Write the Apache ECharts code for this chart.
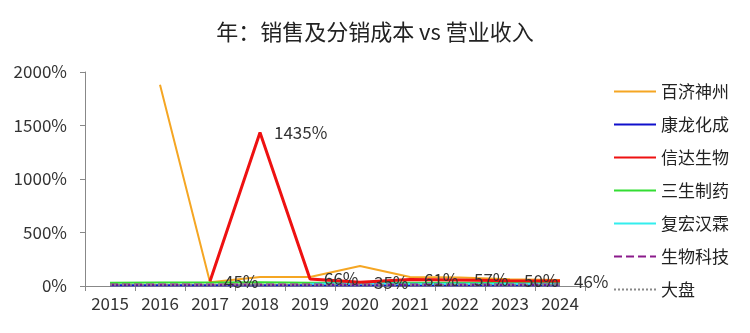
<!DOCTYPE html>
<html><head><meta charset="utf-8">
<script src="https://cdn.jsdelivr.net/npm/echarts@6/dist/echarts.min.js"></script>
<style>html,body{margin:0;padding:0;background:#fff}#c{width:750px;height:333px}</style>
</head><body><div id="c"></div>
<script>
const years = ['2015','2016','2017','2018','2019','2020','2021','2022','2023','2024'];
const yTicks = [0, 500, 1000, 1500, 2000];
const baiji = [null, 1880, 35, 85, 85, 187, 85, 80, 62, 55];
const kanglong = [6, 6, 6, 6, 6, 6, 6, 6, 6, 6];
const xinda = [null, null, 45, 1435, 66, 35, 61, 57, 50, 46];
const sansheng = [30, 32, 32, 34, 30, 30, 30, 30, 28, 28];
const fuhong = [null, null, null, null, 22, 25, 22, 22, 20, 20];
const shengwu = [15, 15, 15, 15, 15, 15, 15, 15, 15, 15];
const dapan = [12, 12, 12, 12, 12, 12, 12, 12, 12, 12];

const FONT = '"Noto Sans CJK SC", "Noto Sans", sans-serif';
const chart = echarts.init(document.getElementById('c'));
function line(name, data, color, width, type, z) {
  return {
    name, type: 'line', data, z,
    symbol: 'circle', symbolSize: 0, showSymbol: true,
    lineStyle: { color, width, type },
    itemStyle: { color },
    connectNulls: false, animation: false
  };
}
const series = [
  line('百济神州', baiji, '#F5A623', 2, 'solid', 2),
  line('康龙化成', kanglong, '#1010CC', 2, 'solid', 2),
  line('信达生物', xinda, '#EE1111', 3, 'solid', 3),
  line('三生制药', sansheng, '#33DD33', 2, 'solid', 2),
  line('复宏汉霖', fuhong, '#33EEEE', 2, 'solid', 2),
  line('生物科技', shengwu, '#8B1A8B', 2, 'dashed', 2),
  line('大盘', dapan, '#888888', 2, 'dotted', 2)
];
series[2].label = {
  show: true, position: 'right', distance: 14,
  formatter: p => p.value + '%',
  color: '#333', fontSize: 17, fontFamily: FONT
};
chart.setOption({
  animation: false,
  title: {
    text: '年：销售及分销成本 vs 营业收入', left: 'center', top: 16,
    textStyle: { fontSize: 22, fontWeight: 'normal', color: '#222', fontFamily: FONT }
  },
  legend: {
    orient: 'vertical', left: 608, top: 78, itemGap: 16,
    itemWidth: 42, itemHeight: 17,
    textStyle: { fontSize: 17, color: '#222', fontFamily: FONT },
    data: series.map(s => ({ name: s.name, itemStyle: { opacity: 0 } }))
  },
  grid: { left: 85, right: 165, top: 72, bottom: 47, containLabel: false },
  xAxis: {
    type: 'category', data: years, boundaryGap: true,
    axisLine: { lineStyle: { color: '#888' } },
    axisTick: { show: true, lineStyle: { color: '#888' } },
    axisLabel: { fontSize: 17, color: '#333', fontFamily: FONT, margin: 9 }
  },
  yAxis: {
    type: 'value', min: yTicks[0], max: yTicks[yTicks.length - 1], interval: 500,
    axisLine: { show: true, lineStyle: { color: '#888' } },
    axisTick: { show: true, lineStyle: { color: '#888' } },
    splitLine: { show: false },
    axisLabel: { fontSize: 17, color: '#333', fontFamily: FONT, margin: 18, formatter: v => v + '%' }
  },
  series
});
</script></body></html>
